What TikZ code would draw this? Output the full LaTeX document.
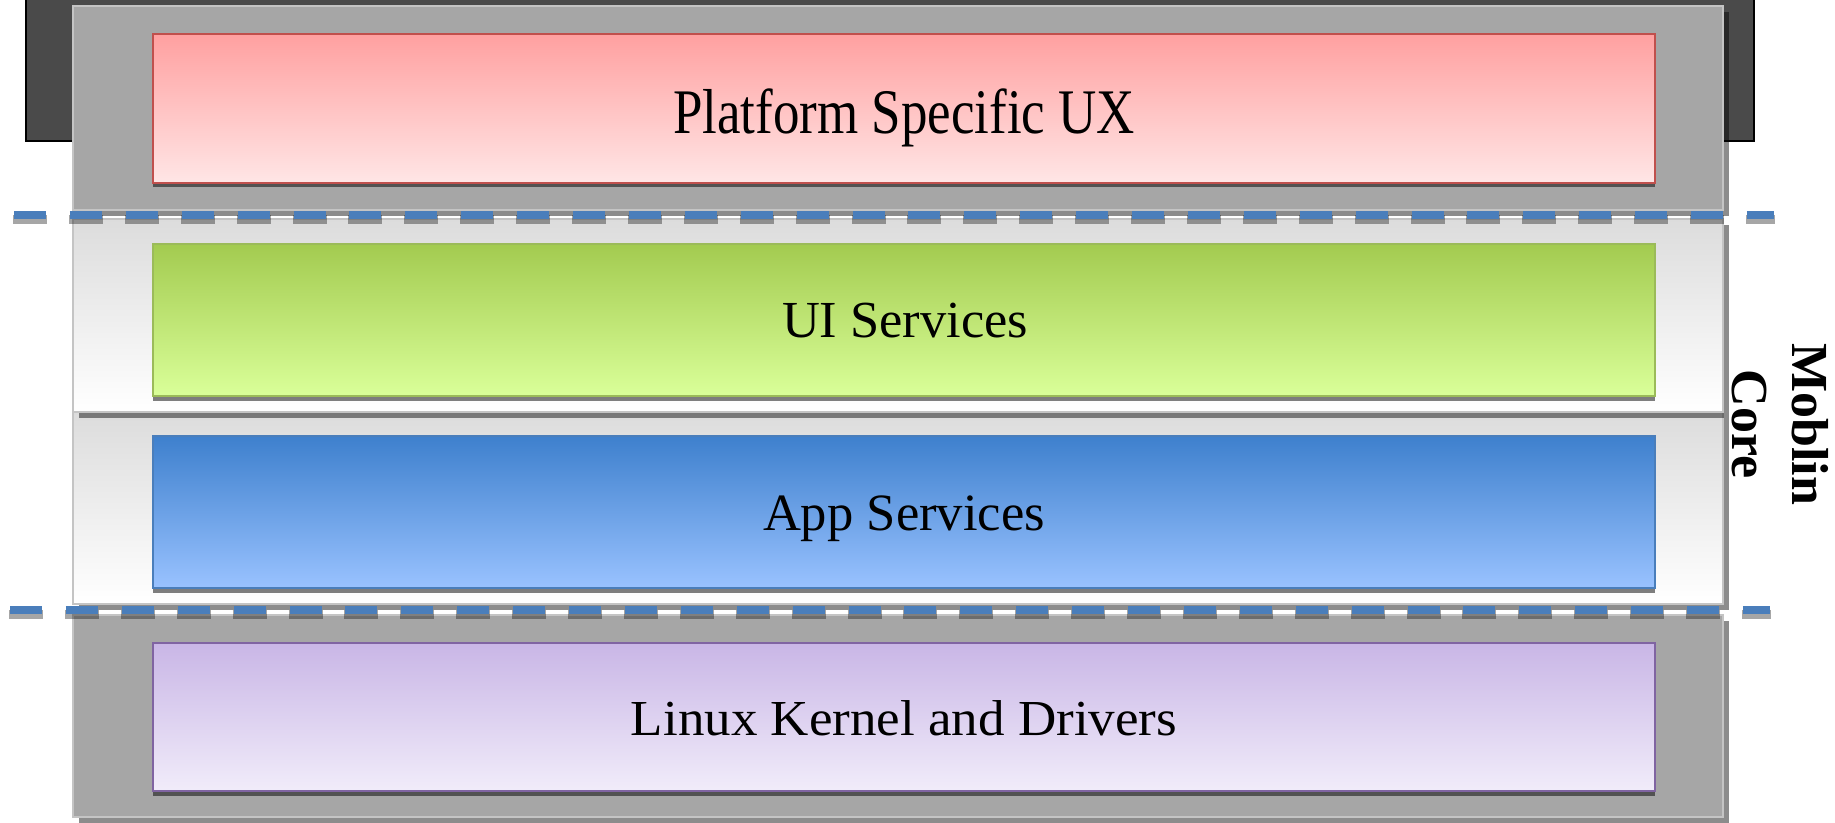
\documentclass[tikz,border=0pt]{standalone}
\usepackage{fontspec}
\setmainfont{Liberation Serif}
\usepackage{graphicx}
\definecolor{darkbg}{HTML}{4A4A4A}
\definecolor{panelgrey}{HTML}{A6A6A6}
\definecolor{panelborder}{HTML}{C4C4C4}
\definecolor{gradtop}{HTML}{DCDCDC}
\definecolor{sepblue}{HTML}{4A7EBB}
\definecolor{pinktop}{HTML}{FFA0A0}
\definecolor{pinkbot}{HTML}{FFE6E6}
\definecolor{pinkbd}{HTML}{C0504D}
\definecolor{greentop}{HTML}{A3CB50}
\definecolor{greenbot}{HTML}{DAFF99}
\definecolor{greenbd}{HTML}{9BBB59}
\definecolor{bluetop}{HTML}{3E80CD}
\definecolor{bluebot}{HTML}{99C2FF}
\definecolor{bluebd}{HTML}{4A7EBB}
\definecolor{purptop}{HTML}{C9B6E6}
\definecolor{purpbot}{HTML}{F1ECFA}
\definecolor{purpbd}{HTML}{8064A2}
\begin{document}
\begin{tikzpicture}[x=1pt,y=-1pt,
  panelshadow/.style={fill=black,fill opacity=0.45,draw=none},
  boxshadow/.style={fill=black,fill opacity=0.5,draw=none},
  greypanel/.style={fill=panelgrey,draw=panelborder,line width=2pt},
  lightpanel/.style={top color=gradtop,bottom color=white,draw=panelborder,line width=2pt},
  layerbox/.style={line width=2pt},
  layertext/.style={anchor=base,inner sep=0pt,text=black},
  sepline/.style={line width=8pt,draw=sepblue,dash pattern=on 32pt off 23.9pt},
  sepshadow/.style={line width=9pt,draw=black,draw opacity=0.35,dash pattern=on 34pt off 21.9pt},
]
\useasboundingbox (0,0) rectangle (1835,822);
\fill[white] (0,0) rectangle (1835,822);

% dark backdrop at top
\fill[darkbg] (26,-2) rectangle (1754,141);
\draw[black,line width=1.2pt] (26,-2) -- (26,141) -- (1754,141) -- (1754,-2);

% bottom panel (kernel)
\fill[panelshadow] (79,621) rectangle (1729,826);
\filldraw[greypanel] (73,615) rectangle (1723,817);

% app services panel
\fill[panelshadow] (79,418) rectangle (1729,610);
\shadedraw[lightpanel] (73,412) rectangle (1723,604);

% ui services panel
\fill[panelshadow] (79,225) rectangle (1729,418);
\shadedraw[lightpanel] (73,219) rectangle (1723,412);

% top panel (platform UX)
\fill[panelshadow] (79,12) rectangle (1729,216);
\filldraw[greypanel] (73,6) rectangle (1723,210);

% inner layer boxes
\fill[boxshadow] (153,37) rectangle (1655,187);
\shadedraw[layerbox,top color=pinktop,bottom color=pinkbot,draw=pinkbd] (153,34) rectangle (1655,183);
\fill[boxshadow] (153,247) rectangle (1655,401);
\shadedraw[layerbox,top color=greentop,bottom color=greenbot,draw=greenbd] (153,244) rectangle (1655,396);
\fill[boxshadow] (153,439) rectangle (1655,593);
\shadedraw[layerbox,top color=bluetop,bottom color=bluebot,draw=bluebd] (153,436) rectangle (1655,588);
\fill[boxshadow] (153,646) rectangle (1655,796);
\shadedraw[layerbox,top color=purptop,bottom color=purpbot,draw=purpbd] (153,643) rectangle (1655,791);

% separator lines
\coordinate (topL) at (14,215);
\coordinate (topR) at (1774,215);
\coordinate (topLs) at (13,219.5);
\coordinate (topRs) at (1775,219.5);
\coordinate (botL) at (10,610);
\coordinate (botR) at (1770,610);
\coordinate (botLs) at (9,614.5);
\coordinate (botRs) at (1771,614.5);
\draw[sepshadow] (topLs) -- (topRs);
\draw[sepline] (topL) -- (topR);
\draw[sepshadow] (botLs) -- (botRs);
\draw[sepline] (botL) -- (botR);

% texts
\node[layertext] (ux) at (904,133.3) {\resizebox{462pt}{\height}{\fontsize{63.5}{70}\selectfont Platform Specific UX}};
\node[layertext] (ui) at (905,337.3) {\resizebox{246pt}{\height}{\fontsize{52}{60}\selectfont UI Services}};
\node[layertext] (app) at (904,530) {\resizebox{282pt}{\height}{\fontsize{52.4}{60}\selectfont App Services}};
\node[layertext] (kernel) at (904,735.7) {\resizebox{546pt}{\height}{\fontsize{50.4}{58}\selectfont Linux Kernel and Drivers}};
\node[rotate=-90,align=center,inner sep=0pt,font=\fontsize{52}{60}\selectfont\bfseries] (core) at (1780,424) {Moblin\\Core};
\end{tikzpicture}
\end{document}
